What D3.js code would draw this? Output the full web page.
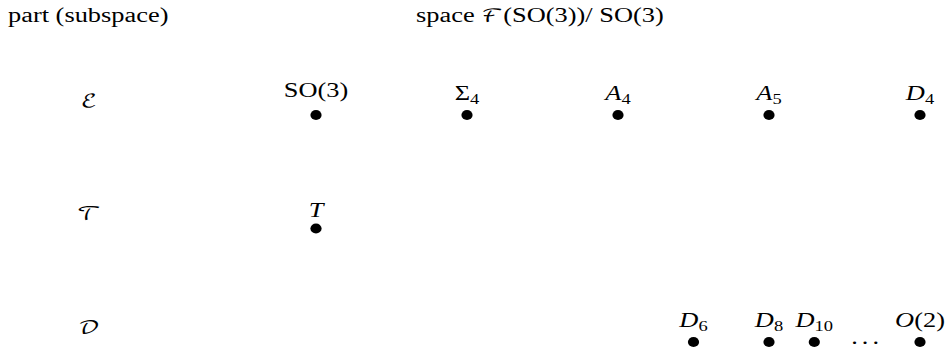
<!DOCTYPE html>
<html><head><meta charset="utf-8">
<script src="https://cdn.jsdelivr.net/npm/d3@7"></script>
<style>body{margin:0;background:#fff}svg{display:block}</style>
</head><body><div id="chart"></div>
<script>
const headerLeft = "part (subspace)";
const headerRight = [["space ","r"],["ℱ","c"],["(SO(3))/ SO(3)","r"]];
const rowLabels = ["ℰ","𝒯","𝒟"];
// point labels as segments: [text, style] where r=roman, i=italic, s=subscript
const pointLabels = [
  [["SO(3)","r"]],
  [["Σ","r"],["4","s"]],
  [["A","i"],["4","s"]],
  [["A","i"],["5","s"]],
  [["D","i"],["4","s"]],
  [["T","i"]],
  [["D","i"],["6","s"]],
  [["D","i"],["8","s"]],
  [["D","i"],["10","s"]],
  [["O","i"],["(2)","r"]]
];
const pointRows = [0,0,0,0,0,1,2,2,2,2];
const pointCols = [0,1,2,3,4,0,2.5,3,3.3,4];
const ellipsisRow = 2, ellipsisCol = 3.65;

const W = 949, H = 351, SX = 1.32;
const serif = '"Liberation Serif","Times New Roman",serif';
const cal = '"DejaVu Math TeX Gyre","STIX Two Math",serif';
const svg = d3.select("#chart").append("svg").attr("width",W).attr("height",H);
svg.append("rect").attr("width",W).attr("height",H).attr("fill","#fff");

const x = d3.scaleLinear().domain([0,4]).range([316,920]);
const y = d3.scalePoint().domain(d3.range(rowLabels.length)).range([115,342]);

function stretched(g, tx, ty, anchor){
  return g.append("text").attr("transform",`translate(${tx},${ty}) scale(${SX},1)`)
    .attr("text-anchor",anchor).style("font-family",serif).style("font-size","20px").attr("fill","#000");
}
function addSegs(t, segs){
  let shifted = false;
  segs.forEach(([s,st])=>{
    const sp = t.append("tspan").text(s);
    if(st==="i") sp.style("font-style","italic");
    if(st==="c") sp.style("font-family",cal).style("font-size","18px");
    if(st==="s"){ sp.style("font-size","14px").attr("dy",4); shifted = true; }
    else if(shifted){ sp.attr("dy",-4); shifted=false; }
  });
}

// headers
stretched(svg, 8, 22, "start").text(headerLeft);
addSegs(stretched(svg, 416, 22, "start"), headerRight);

// row labels
rowLabels.forEach((r,i)=>{
  stretched(svg, 89, y(i)-8.5, "middle").style("font-family",cal).style("font-size","18px").text(r);
});

// points
const g = svg.append("g");
pointLabels.forEach((segs,i)=>{
  const px = x(pointCols[i]), py = y(pointRows[i]);
  g.append("ellipse").attr("cx",px).attr("cy",py).attr("rx",5.6).attr("ry",5.1).attr("fill","#000");
  const hasSub = segs.some(s=>s[1]==="s");
  const hasParen = segs.some(s=>s[0].includes("("));
  const hasItalic = segs.some(s=>s[1]==="i");
  const off = (hasParen && !hasItalic) ? 18.5 : ((hasSub||hasParen) ? 15.5 : 12);
  addSegs(stretched(g, px, py-off, "middle"), segs);
});

// ellipsis
stretched(svg, x(ellipsisCol), y(ellipsisRow)+2, "middle").attr("letter-spacing",3).text("...");
</script></body></html>
